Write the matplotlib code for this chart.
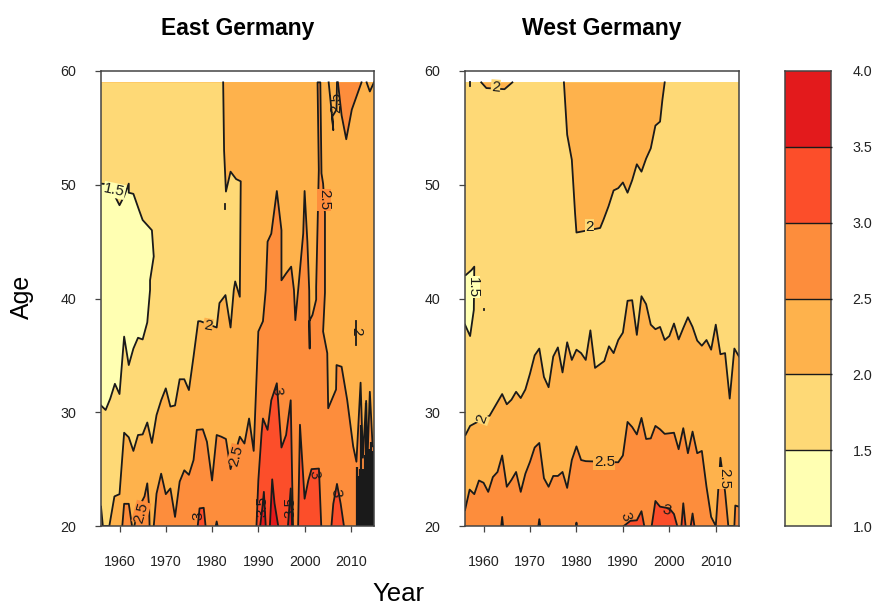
import matplotlib
matplotlib.use('Agg')
import matplotlib.pyplot as plt

plt.rcParams['font.family'] = ['Liberation Sans', 'DejaVu Sans']

W, H = 875, 606
LINE = '#1a1a1a'
SPINE = '#444444'
LW = 1.3

levels = [1.0, 1.5, 2.0, 2.5, 3.0, 3.5, 4.0]
level_colors = ['#ffffb2', '#fed976', '#feb24c', '#fd8d3c', '#fc4e2a', '#e31a1c']
x_ticks = [1960, 1970, 1980, 1990, 2000, 2010]
y_ticks = [20, 30, 40, 50, 60]

# ---- East Germany contours, (year, age)
e15_years = [1956, 1957, 1958, 1959, 1960, 1961, 1962, 1963, 1964, 1965, 1966, 1966.6, 1966.6, 1967.4, 1967,
             1965, 1964.2, 1963, 1962, 1962, 1961, 1960, 1959, 1958.5, 1956]
e15_ages = [30.6, 30.2, 31.2, 32.5, 31.6, 36.65, 34.15, 35.6, 36.55, 36.4, 37.9, 40.75, 41.6, 43.7, 46,
            46.9, 47.8, 49.2, 49.3, 50.1, 49, 48.2, 49, 50, 50.1]

e20_years = [1956, 1956.4, 1957.8, 1958.9, 1960, 1961, 1962, 1963, 1964, 1965, 1966, 1967, 1968, 1969, 1970,
             1971, 1972, 1973, 1974, 1975, 1976, 1977, 1977.5, 1981, 1981.6, 1982.9, 1984, 1984.7, 1985, 1986,
             1986.2, 1985.2, 1984, 1983, 1982.6, 1982.4]
e20_ages = [21.7, 20, 20, 22.6, 22.8, 28.2, 27.8, 26.6, 28, 28.05, 29.1, 27.3, 29.75, 31.05, 32.1,
            30.5, 30.6, 32.9, 32.9, 31.95, 34.9, 38, 38, 37.45, 39.6, 40.3, 37.45, 40.75, 41.5, 40.15,
            50.3, 50.5, 51.15, 49.4, 53, 59]

e25_years = [1967.4, 1968, 1969, 1970, 1971, 1972, 1973, 1974, 1975, 1976, 1976.7, 1978, 1978.9, 1980, 1981,
             1982, 1983, 1984, 1986, 1987, 1988, 1989, 1990, 1991, 1991.6, 1992, 1992.8, 1994, 1995, 1995,
             1996, 1997.1, 1997.7, 1998, 1998.6, 1999.7, 2000, 2000.6, 2001, 2001.1, 2001, 2001.7, 2002.5, 2002.5,
             2002.8, 2003.07, 2002.8, 2003.4, 2003.65, 2004, 2004.4, 2004.4, 2004, 2004.9, 2005.1, 2006.8, 2006.9,
             2008, 2009.2, 2010.5, 2011.2, 2012.1, 2012.6, 2013.3, 2013.6, 2014.1, 2014.7, 2015, 2015]
e25_ages = [20, 22.85, 24.6, 22.8, 23.3, 20.8, 23.9, 24.9, 24.5, 25.8, 28.45, 28.5, 27.4, 24, 28,
            27.85, 27.65, 25, 27.85, 27.25, 29.45, 26.6, 37.1, 38, 40.75, 45, 45.7, 49.45, 46, 41.6,
            42.2, 42.8, 40.75, 38.1, 40.7, 45.7, 49.45, 45, 40.7, 35.6, 38, 38.55, 39.9, 41,
            46.3, 51.3, 59, 59, 51, 50.1, 47.5, 40.5, 37.1, 35.2, 30.35, 32, 34.15,
            34, 31.1, 27, 25.65, 32.6, 26, 31, 26, 31.8, 27, 27, 20]
e25_left_years = [1960.6, 1961, 1962, 1962.7]
e25_left_ages = [20, 21.95, 21.95, 20]
e25_mid_years = [1963.2, 1964, 1965.4, 1966, 1966.4, 1966.5]
e25_mid_ages = [20, 21.5, 22.6, 23.75, 21.7, 20]
e25_top_years = [2007.2, 2008, 2009, 2010.2, 2012.3]
e25_top_ages = [59, 56.1, 54, 56.6, 59]
e20_top_years = [2005.2, 2005.8, 2006.2, 2006.0, 2006.9, 2007.0]
e20_top_ages = [59, 56.6, 54.8, 56, 56.6, 59]
e20_vee_years = [2013.4, 2014.1, 2015]
e20_vee_ages = [59, 58.2, 59]
e20_small_years = [2011.1, 2011.1]
e20_small_ages = [35.9, 38]
e20_dot_years = [1982.9, 1982.9]
e20_dot_ages = [47.9, 48.3]

e30_shapes = [
    ([1976.9, 1977.3, 1978.2, 1978.6], [20, 21.55, 21.6, 20]),
    ([1980.8, 1981, 1981.2], [20, 20.4, 20]),
    ([1989.6, 1990, 1990.7, 1991, 1992, 1992.8, 1994, 1995, 1996, 1997, 1997.5],
     [20, 24, 28.15, 29.45, 28.45, 31.05, 32.55, 26.9, 28, 31.05, 20]),
    ([1998.6, 1999, 2000, 2000.8, 2001.5, 2003.1, 2003.6], [20, 28.9, 22.4, 24, 25, 25.05, 20]),
    ([2005.8, 2006.2, 2007, 2007.8, 2008.5], [20, 21.95, 23.7, 21.95, 20]),
]
e35_shapes = [
    ([1990.4, 1990.9, 1991.2, 1991.6], [20, 21.7, 23, 20]),
    ([1992.5, 1993, 1993.5, 1994.3], [20, 24.1, 22, 20]),
    ([1996.4, 1997, 1997.3], [20, 23.3, 20]),
]

# the noisy young ages after 2011, contours pile up there
e_dense_years = [2011.3, 2011.5, 2011.7, 2011.9, 2012.1, 2012.3, 2012.5, 2012.7, 2012.9, 2013.1,
                 2013.3, 2013.5, 2013.7, 2013.9, 2014.1, 2014.3, 2014.5, 2014.7, 2014.9]
e_dense_ages = [25.2, 23.6, 24.4, 25.0, 28.9, 24.8, 24.2, 25.0, 24.6, 26.2,
                30.8, 28.2, 26.4, 26.8, 26.2, 27.4, 25.8, 26.6, 26.2]

# ---- West Germany contours
w15_years = [1956, 1957.1, 1957.9, 1958, 1957.4, 1956]
w15_ages = [37.7, 36.7, 39, 42.8, 42.5, 42]

w20_low_years = [1956.1, 1957.1, 1958, 1961.3, 1964, 1965, 1966, 1967, 1968, 1969, 1970, 1971, 1972, 1973, 1974,
                 1975, 1976, 1977, 1978, 1979, 1980, 1981, 1982, 1983, 1984, 1985, 1986, 1987, 1988, 1989, 1990,
                 1991, 1992, 1993, 1994, 1995, 1996, 1997, 1998, 1999, 2000, 2001, 2002, 2003, 2004, 2005, 2006,
                 2007, 2008, 2009, 2010, 2011, 2012, 2013, 2014, 2015]
w20_low_ages = [28, 28.8, 29, 29.7, 31.6, 30.7, 31.1, 31.8, 31.25, 32, 33.4, 35, 35.6, 33.1, 32.2,
                34.9, 35.7, 33.5, 36.15, 34.6, 35.5, 35.2, 34.6, 37.2, 33.9, 34.2, 34.5, 35.8, 35.2, 36.35, 37,
                39.8, 39.85, 36.8, 40.2, 39.5, 37.7, 37.3, 37.5, 36.35, 36.7, 37.8, 36.4, 37.4, 38.35, 37.5, 36.3,
                35.85, 36.35, 35.5, 37.7, 35.1, 35.2, 31.2, 35.6, 34.9]

w20_top_years = [1977.3, 1978, 1979, 1979.7, 1980, 1985.1, 1985.8, 1986.9, 1988, 1989, 1990, 1991, 1992, 1993,
                 1994, 1995, 1996, 1997, 1998, 1998.5, 1999]
w20_top_ages = [59, 54.4, 52.2, 47.5, 45.8, 46.2, 46.9, 48.1, 49.5, 49.7, 50.2, 49.3, 50.4, 51.8,
                51.15, 52.3, 53.2, 55.2, 55.55, 57.45, 59]
w20_corner_years = [1959.5, 1960.6, 1964.5, 1966.2]
w20_corner_ages = [59, 58.5, 58.4, 59]
w20_dot_years = [1957, 1957]
w20_dot_ages = [58.7, 59]
w15_dot_years = [1960, 1960]
w15_dot_ages = [38.95, 39.05]

w25_years = [1956, 1957, 1958, 1959, 1960, 1961, 1962, 1963, 1964, 1965, 1966, 1967, 1968, 1969, 1970, 1971, 1972,
             1973, 1974, 1975, 1976, 1977, 1978, 1979, 1980, 1981, 1982, 1989, 1990, 1991, 1992, 1993, 1994, 1995,
             1996, 1997, 1998, 1999, 2000, 2001, 2002, 2003, 2004, 2005, 2006, 2007, 2008, 2009, 2010, 2011, 2012,
             2012.7, 2014, 2014.2, 2015]
w25_ages = [21.4, 23.2, 22.8, 24, 23.8, 23, 24.3, 24.75, 26.2, 23.45, 24.05, 24.75, 23, 24.6, 25.65, 26.9, 27.3,
            24.2, 23.45, 24.4, 24.4, 24.75, 23.35, 25.8, 27, 25.8, 25.7, 25.6, 26.2, 29.15, 28.7, 28.05, 29.5, 27.65,
            27.7, 28.8, 28.5, 28.1, 28.15, 28.2, 26.75, 28.6, 26.4, 28.3, 26.4, 26.6, 23.45, 20.8, 20, 26, 23,
            20, 20, 21.8, 21.7]

w30_shapes = [
    ([1963.8, 1964, 1964.2], [20, 20.8, 20]),
    ([1971.8, 1972, 1972.2], [20, 20.6, 20]),
    ([1979.9, 1980, 1980.1], [20, 20.3, 20]),
    ([1990.2, 1991.6, 1993, 1994, 1994.6], [20, 20.45, 20.5, 21.3, 20]),
    ([1996.2, 1997, 1998, 2000, 2001, 2001.7], [20, 22.2, 21.7, 21.55, 21.05, 20]),
    ([2002.6, 2003, 2003.5], [20, 22, 20]),
    ([2004.6, 2005, 2005.4], [20, 21.1, 20]),
]


def outlined(ax, years, ages, color, closing=()):
    """Fill one contour region and stroke its line; closing points get no stroke."""
    xs = list(years) + [p[0] for p in closing]
    ys = list(ages) + [p[1] for p in closing]
    ax.fill(xs, ys, facecolor=color, edgecolor='none', zorder=2)
    ax.plot(years, ages, color=LINE, lw=LW, zorder=4)


def contour_label(ax, year, age, text, angle, bg=None):
    box = dict(facecolor=bg, edgecolor='none', pad=0.3) if bg else None
    ax.text(year, age, text, rotation=angle, rotation_mode='anchor', ha='center', va='center',
            fontsize=11, color=LINE, zorder=5, bbox=box)


def setup_axes(left, right, title):
    ax = fig.add_axes([left / W, (H - 526) / H, (right - left) / W, 455 / H])
    ax.set_xlim(1956, 2015)
    ax.set_ylim(20, 60)
    ax.set_xticks(x_ticks)
    ax.set_yticks(y_ticks)
    ax.tick_params(length=4, width=0.9, color=SPINE, labelsize=10.3, labelcolor='#222222')
    ax.tick_params(axis='x', pad=17)
    ax.tick_params(axis='y', pad=14)
    for s in ax.spines.values():
        s.set_color(SPINE)
        s.set_linewidth(1.1)
        s.set_zorder(6)
    ax.set_title(title, fontsize=16.5, fontweight='bold', pad=26)
    return ax


fig = plt.figure(figsize=(W / 100, H / 100), dpi=100)

# East Germany
ax = setup_axes(101, 374, 'East Germany')
ax.fill_between([1956, 2015], 20, 59, color=level_colors[2], lw=0, zorder=1)
outlined(ax, e20_years, e20_ages, level_colors[1], closing=[(1956, 59)])
outlined(ax, e15_years, e15_ages, level_colors[0])
outlined(ax, e25_years, e25_ages, level_colors[3])
outlined(ax, e25_left_years, e25_left_ages, level_colors[3])
outlined(ax, e25_mid_years, e25_mid_ages, level_colors[3])
outlined(ax, e25_top_years, e25_top_ages, level_colors[3])
ax.plot(e20_top_years, e20_top_ages, color=LINE, lw=LW, zorder=4)
ax.plot(e20_vee_years, e20_vee_ages, color=LINE, lw=LW, zorder=4)
ax.plot(e20_small_years, e20_small_ages, color=LINE, lw=LW, zorder=4)
ax.plot(e20_dot_years, e20_dot_ages, color=LINE, lw=LW, zorder=4)
for yrs, ags in e30_shapes:
    outlined(ax, yrs, ags, level_colors[4])
for yrs, ags in e35_shapes:
    outlined(ax, yrs, ags, level_colors[5])
ax.vlines(e_dense_years, 20, e_dense_ages, color=LINE, lw=1.6, zorder=4)

contour_label(ax, 1958.9, 49.5, '1.5', -12, level_colors[0])
contour_label(ax, 1979.1, 37.6, '2', -10, level_colors[2])
contour_label(ax, 1985.2, 26.2, '2.5', 75, level_colors[3])
contour_label(ax, 1964.7, 21.2, '2.5', 75, level_colors[3])
contour_label(ax, 1993.9, 31.9, '3', -85)
contour_label(ax, 2002, 24.5, '3', -80)
contour_label(ax, 2006.7, 22.9, '3', -85)
contour_label(ax, 1977.1, 20.9, '3', 90)
contour_label(ax, 1991, 21.7, '3.5', 90)
contour_label(ax, 1997, 21.6, '3.5', 90)
contour_label(ax, 2011.2, 37.1, '2', -90)
contour_label(ax, 2004.2, 48.7, '2.5', -90, level_colors[3])
contour_label(ax, 2006.9, 57.2, '2.5', 90)
fig.text(22 / W, 1 - 297 / H, 'Age', fontsize=18, rotation=90, ha='center', va='center')

# West Germany
ax = setup_axes(465, 739, 'West Germany')
ax.fill_between([1956, 2015], 20, 59, color=level_colors[1], lw=0, zorder=1)
outlined(ax, w15_years, w15_ages, level_colors[0])
outlined(ax, w20_top_years, w20_top_ages, level_colors[2])
outlined(ax, w20_corner_years, w20_corner_ages, level_colors[2])
ax.plot(w20_dot_years, w20_dot_ages, color=LINE, lw=LW, zorder=4)
ax.plot(w15_dot_years, w15_dot_ages, color=LINE, lw=LW, zorder=4)
outlined(ax, w20_low_years, w20_low_ages, level_colors[2], closing=[(2015, 20), (1956, 20)])
outlined(ax, w25_years, w25_ages, level_colors[3], closing=[(2015, 20), (1956, 20)])
for yrs, ags in w30_shapes:
    outlined(ax, yrs, ags, level_colors[4])

contour_label(ax, 1962.6, 58.6, '2', -5, level_colors[1])
contour_label(ax, 1982.8, 46.3, '2', 0, level_colors[1])
contour_label(ax, 1957.7, 41, '1.5', -90, level_colors[0])
contour_label(ax, 1959.6, 29.4, '2', 70, level_colors[1])
contour_label(ax, 1986, 25.6, '2.5', 0, level_colors[2])
contour_label(ax, 1990.7, 20.8, '3', -70)
contour_label(ax, 1999.5, 21.4, '3', -15)
contour_label(ax, 2011.8, 24.2, '2.5', -90, level_colors[2])
fig.text(398 / W, 1 - 601 / H, 'Year', fontsize=18.5, ha='center', va='baseline')

# key
cax = fig.add_axes([785 / W, (H - 526) / H, 46 / W, 455 / H])
cax.set_xlim(0, 1)
cax.set_ylim(levels[0], levels[-1])
for i, col in enumerate(level_colors):
    cax.bar(0.5, levels[i + 1] - levels[i], width=1, bottom=levels[i], color=col, lw=0, zorder=1)
cax.hlines(levels[1:-1], 0, 1.03, color=LINE, lw=1.0, clip_on=False, zorder=3)
cax.set_xticks([])
cax.yaxis.tick_right()
cax.set_yticks(levels)
cax.set_yticklabels(['%.1f' % v for v in levels])
cax.tick_params(length=0, labelsize=10.3, pad=15.5, labelcolor='#222222')
for s in cax.spines.values():
    s.set_color(SPINE)
    s.set_linewidth(1.1)

fig.savefig('out.png', dpi=100)
